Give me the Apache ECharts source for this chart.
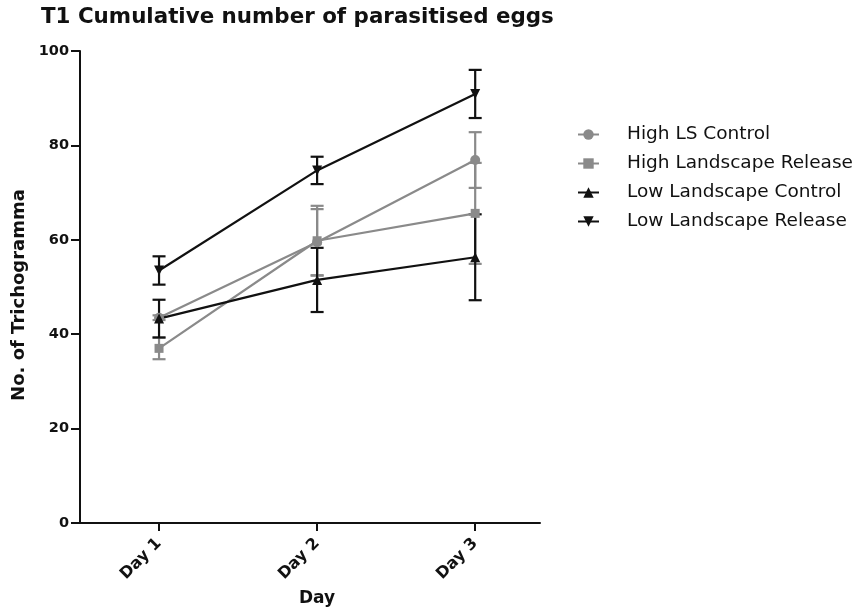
<!DOCTYPE html>
<html>
<head>
<meta charset="utf-8">
<script src="https://cdn.jsdelivr.net/npm/echarts@6/dist/echarts.min.js"></script>
<style>
  html, body { margin: 0; padding: 0; background: #fff; }
  #chart { width: 860px; height: 612px; }
</style>
</head>
<body>
<div id="chart"></div>
<script>
// Days on the x axis (positions 1..3) and their tick labels
const days = [1, 2, 3];
const dayLabels = ['Day 1', 'Day 2', 'Day 3'];
const yTicks = [0, 20, 40, 60, 80, 100];

// Mean cumulative counts and their error (± half-range) per treatment
const seriesNames = ['High LS Control', 'High Landscape Release', 'Low Landscape Control', 'Low Landscape Release'];
const highLSControl = [43.5, 59.5, 76.9];
const highLSControlErr = [0.5, 7.0, 5.9];
const highLandscapeRelease = [37.0, 59.8, 65.6];
const highLandscapeReleaseErr = [2.3, 7.4, 10.7];
const lowLandscapeControl = [43.3, 51.5, 56.3];
const lowLandscapeControlErr = [4.0, 6.8, 9.1];
const lowLandscapeRelease = [53.5, 74.7, 90.9];
const lowLandscapeReleaseErr = [3.0, 2.9, 5.1];

const GREY = '#8a8a8a';
const BLACK = '#111111';
const FONT = 'DejaVu Sans, Liberation Sans, Arial, sans-serif';

const groups = [
  { name: seriesNames[0], mean: highLSControl, err: highLSControlErr, color: GREY, symbol: 'circle', size: 10 },
  { name: seriesNames[1], mean: highLandscapeRelease, err: highLandscapeReleaseErr, color: GREY, symbol: 'rect', size: 9 },
  { name: seriesNames[2], mean: lowLandscapeControl, err: lowLandscapeControlErr, color: BLACK, symbol: 'triangle', size: 10 },
  { name: seriesNames[3], mean: lowLandscapeRelease, err: lowLandscapeReleaseErr, color: BLACK, symbol: 'path://M0,0 L10,0 L5,9 Z', size: 10 }
];

const series = [];
groups.forEach(function (g) {
  // error bars with caps (unnamed, so the legend follows the line series)
  series.push({
    type: 'custom',
    silent: true,
    z: 2,
    data: days.map(function (d, i) { return [d, g.mean[i] - g.err[i], g.mean[i] + g.err[i]]; }),
    renderItem: function (params, api) {
      const lo = api.coord([api.value(0), api.value(1)]);
      const hi = api.coord([api.value(0), api.value(2)]);
      const half = 6.5;
      const style = { stroke: g.color, lineWidth: 2.2, fill: null };
      return {
        type: 'group',
        children: [
          { type: 'line', shape: { x1: lo[0], y1: lo[1], x2: hi[0], y2: hi[1] }, style: style },
          { type: 'line', shape: { x1: lo[0] - half, y1: lo[1], x2: lo[0] + half, y2: lo[1] }, style: style },
          { type: 'line', shape: { x1: hi[0] - half, y1: hi[1], x2: hi[0] + half, y2: hi[1] }, style: style }
        ]
      };
    }
  });
  // mean line with markers
  series.push({
    type: 'line',
    name: g.name,
    z: 3,
    data: days.map(function (d, i) { return [d, g.mean[i]]; }),
    symbol: g.symbol,
    symbolSize: g.size,
    showAllSymbol: true,
    color: g.color,
    lineStyle: { color: g.color, width: 2.2 },
    itemStyle: { color: g.color, borderWidth: 0 },
    emphasis: { disabled: true }
  });
});

const chart = echarts.init(document.getElementById('chart'), null, { renderer: 'canvas' });
chart.setOption({
  animation: false,
  backgroundColor: '#ffffff',
  textStyle: { fontFamily: FONT },
  title: {
    text: 'T1 Cumulative number of parasitised eggs',
    left: 36,
    top: 2,
    textStyle: { fontSize: 21.4, fontWeight: 'bold', color: '#111', fontFamily: FONT }
  },
  legend: {
    orient: 'vertical',
    left: 572,
    top: 120,
    itemWidth: 21,
    itemHeight: 13,
    itemGap: 10,
    data: seriesNames,
    textStyle: { fontSize: 18.5, lineHeight: 18, color: '#111', fontFamily: FONT, padding: [0, 0, 0, 23] }
  },
  grid: { left: 80, right: 320, top: 51, bottom: 89 },
  xAxis: {
    type: 'value',
    min: 0.5,
    max: 3.41,
    name: 'Day',
    nameLocation: 'middle',
    nameGap: 67,
    nameTextStyle: { fontSize: 17, fontWeight: 'bold', color: '#111', fontFamily: FONT, padding: [0, 0, 0, 14] },
    axisLine: { lineStyle: { color: '#111', width: 2 } },
    axisTick: { show: true, length: 8, lineStyle: { color: '#111', width: 2 }, customValues: days },
    axisLabel: {
      customValues: days,
      rotate: 45,
      fontSize: 16,
      fontWeight: 'bold',
      color: '#111',
      fontFamily: FONT,
      margin: 18,
      formatter: function (v) { return dayLabels[days.indexOf(Math.round(v))] || ''; }
    },
    splitLine: { show: false }
  },
  yAxis: {
    type: 'value',
    min: 0,
    max: 100,
    interval: 20,
    name: 'No. of Trichogramma',
    nameLocation: 'middle',
    nameGap: 50,
    nameTextStyle: { fontSize: 18, fontWeight: 'bold', color: '#111', fontFamily: FONT, padding: [0, 16, 0, 0] },
    axisLine: { show: true, lineStyle: { color: '#111', width: 2 } },
    axisTick: { show: true, length: 9, lineStyle: { color: '#111', width: 2 } },
    axisLabel: {
      fontSize: 14.5,
      fontWeight: 'bold',
      color: '#111',
      fontFamily: FONT,
      margin: 11,
      formatter: function (v) { return yTicks.indexOf(v) >= 0 ? String(v) : ''; }
    },
    splitLine: { show: false }
  },
  series: series
});
</script>
</body>
</html>
